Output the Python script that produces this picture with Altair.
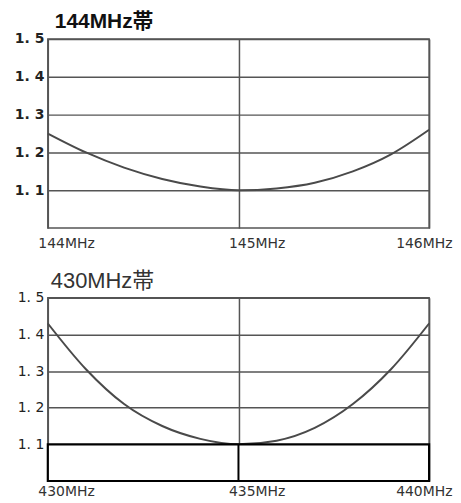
import altair as alt
import pandas as pd

# 144MHz band
freq_144 = [144.0, 144.2, 144.4, 144.6, 144.8, 145.0, 145.2, 145.4, 145.6, 145.8, 146.0]
swr_144 = [1.25, 1.20, 1.16, 1.13, 1.11, 1.10, 1.105, 1.12, 1.15, 1.195, 1.26]
ticks_144 = [144, 145, 146]

# 430MHz band
freq_430 = [430, 431, 432, 433, 434, 435, 436, 437, 438, 439, 440]
swr_430 = [1.43, 1.305, 1.21, 1.15, 1.115, 1.10, 1.11, 1.145, 1.21, 1.305, 1.43]
ticks_430 = [430, 435, 440]

y_ticks = [1.1, 1.2, 1.3, 1.4, 1.5]

FONT = "Liberation Sans, Noto Sans CJK JP"
GRID = "#555555"
LINE = "#4a4a4a"


def y_axis(bold):
    return alt.Axis(
        values=y_ticks, tickCount=10,
        labelExpr="replace(format(datum.value, '.1f'), '.', '. ')",
        grid=True, gridColor=GRID, gridWidth=1.5,
        domain=False, ticks=False, labelPadding=4,
        labelFont="DejaVu Sans", labelFontSize=14,
        labelFontWeight="bold" if bold else "normal",
        labelColor="#222222", title=None,
        minExtent=33, maxExtent=33,
    )


def x_axis(ticks, pad):
    last = ticks[-1]
    return alt.Axis(
        values=ticks, tickCount=10,
        labelExpr="datum.value + 'MHz'",
        grid=True, gridColor=GRID, gridWidth=1.5,
        domain=False, ticks=False, labelPadding=pad,
        labelFont="DejaVu Sans", labelFontSize=14, labelColor="#333333",
        labelAlign={"condition": {"test": f"datum.value == {last}", "value": "right"}, "value": "left"},
        labelOffset={"condition": {"test": f"datum.value == {last}", "value": 23}, "value": -10},
        labelFlush=False, labelOverlap=False, labelBound=False,
        title=None,
    )


df144 = pd.DataFrame({"f": freq_144, "swr": swr_144})
df430 = pd.DataFrame({"f": freq_430, "swr": swr_430})

top = alt.Chart(df144).mark_line(color=LINE, strokeWidth=2, interpolate="monotone").encode(
    x=alt.X("f:Q", scale=alt.Scale(domain=[144, 146], nice=False), axis=x_axis(ticks_144, 8)),
    y=alt.Y("swr:Q", scale=alt.Scale(domain=[1.0, 1.5], nice=False, zero=False), axis=y_axis(True)),
).properties(
    width=383, height=190,
    title=alt.TitleParams("144MHz帯", anchor="start", font=FONT, fontSize=21, frame="group",
                          fontWeight="bold", offset=0, dx=7, color="#111111"),
)

box_df = pd.DataFrame({"x": [ticks_430[0]], "x2": [ticks_430[-1]], "y": [1.0], "y2": [1.1]})
mid_df = pd.DataFrame({"x": [ticks_430[1]], "y": [1.0], "y2": [1.1]})

bline = alt.Chart(df430).mark_line(color=LINE, strokeWidth=2, interpolate="monotone").encode(
    x=alt.X("f:Q", scale=alt.Scale(domain=[430, 440], nice=False), axis=x_axis(ticks_430, 4)),
    y=alt.Y("swr:Q", scale=alt.Scale(domain=[1.0, 1.5], nice=False, zero=False), axis=y_axis(False)),
)
bbox = alt.Chart(box_df).mark_rect(fill="white", stroke="#000000", strokeWidth=2.2).encode(
    x="x:Q", x2="x2:Q", y="y:Q", y2="y2:Q"
)
bmid = alt.Chart(mid_df).mark_rule(color="#000000", strokeWidth=2).encode(
    x="x:Q", y="y:Q", y2="y2:Q"
)
bottom = alt.layer(bline, bbox, bmid).properties(
    width=383, height=184,
    title=alt.TitleParams("430MHz帯", anchor="start", font=FONT, fontSize=22, frame="group",
                          fontWeight="normal", offset=-2, dx=3, color="#333333"),
)

chart = alt.vconcat(top, bottom, spacing=18).properties(
    padding={"top": 1, "left": 5, "right": 0, "bottom": 0}
).configure_view(stroke=GRID, strokeWidth=1.5)

chart.save("out.html", embed_options={"renderer": "svg", "actions": False})
